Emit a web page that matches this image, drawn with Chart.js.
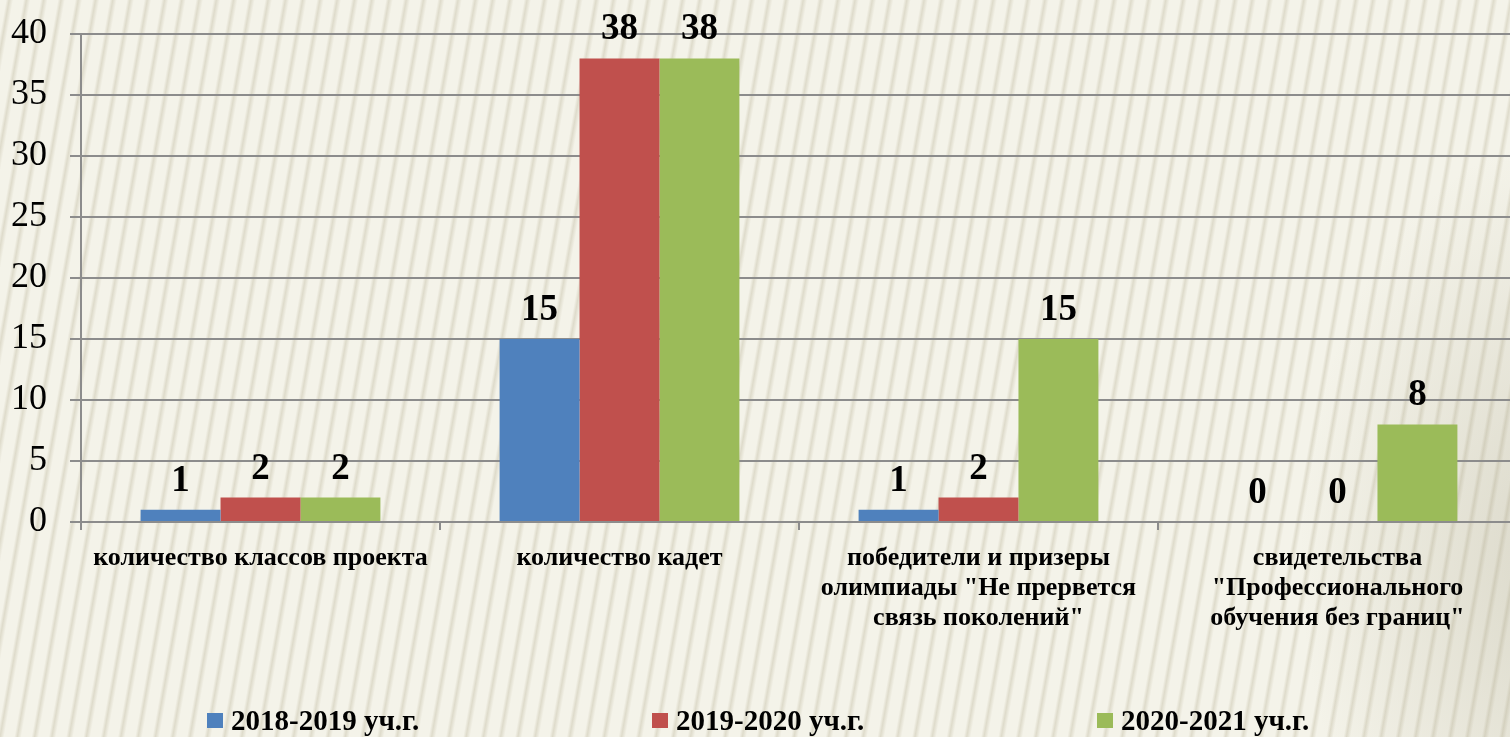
<!DOCTYPE html>
<html lang="ru">
<head>
<meta charset="utf-8">
<title>Проект кадетских классов</title>
<script src="https://cdn.jsdelivr.net/npm/chart.js@4.4.1/dist/chart.umd.min.js"></script>
<style>
  html, body {
    margin: 0;
    width: 1510px;
    height: 737px;
    overflow: hidden;
  }
  body {
    position: relative;
    background-color: #edebde;
    background-image:
      radial-gradient(ellipse 260px 420px at 1560px 560px, rgba(170,165,140,0.35), rgba(170,165,140,0) 100%),
      repeating-linear-gradient(100deg, rgba(255,255,250,0.4) 0px, rgba(255,255,250,0.4) 6px, rgba(195,190,168,0.35) 9px, rgba(255,255,250,0.4) 13px, rgba(255,255,250,0.4) 17px);
  }
  #wrap {
    position: absolute;
    left: 0;
    top: 0;
    width: 1520px;
    height: 737px;
  }
  #legend {
    position: absolute;
    left: 207px;
    top: 705px;
    display: flex;
    font: bold 29px "Liberation Serif", "Times New Roman", serif;
    color: #000;
  }
  #legend .item {
    width: 445px;
    display: flex;
    align-items: center;
    height: 30px;
  }
  #legend .box {
    width: 16px;
    height: 15px;
    margin-right: 8px;
  }
</style>
</head>
<body>
<div id="wrap"><canvas id="chart"></canvas></div>
<div id="legend"></div>

<script>
/* ================= DATA ================= */
const categories = [
  ["количество классов проекта"],
  ["количество кадет"],
  ["победители и призеры", "олимпиады \"Не прервется", "связь поколений\""],
  ["свидетельства", "\"Профессионального", "обучения без границ\""]
];

const seriesNames = ["2018-2019 уч.г.", "2019-2020 уч.г.", "2020-2021 уч.г."];
const seriesColors = ["#4f81bd", "#c0504d", "#9bbb59"];

const values2018 = [1, 15, 1, 0];
const values2019 = [2, 38, 2, 0];
const values2020 = [2, 38, 15, 8];

const yTicks = [0, 5, 10, 15, 20, 25, 30, 35, 40];

/* ================= PLUGINS ================= */
// numbers over bars (no datalabels plugin available offline)
const barValues = {
  id: "barValues",
  afterDatasetsDraw(chart) {
    const ctx = chart.ctx;
    ctx.save();
    ctx.font = "bold 37px 'Liberation Serif', 'Times New Roman', serif";
    ctx.fillStyle = "#000";
    ctx.textAlign = "center";
    ctx.textBaseline = "alphabetic";
    chart.data.datasets.forEach((ds, i) => {
      chart.getDatasetMeta(i).data.forEach((bar, j) => {
        ctx.fillText(String(ds.data[j]), bar.x, bar.y - 19);
      });
    });
    ctx.restore();
  }
};

/* ================= CHART ================= */
const allSeries = [values2018, values2019, values2020];
const gridGray = "#8c8c8c";

new Chart(document.getElementById("chart"), {
  type: "bar",
  data: {
    labels: categories,
    datasets: allSeries.map((vals, i) => ({
      label: seriesNames[i],
      data: vals,
      backgroundColor: seriesColors[i],
      borderWidth: 0,
      categoryPercentage: 0.668,
      barPercentage: 1
    }))
  },
  options: {
    responsive: true,
    maintainAspectRatio: false,
    animation: false,
    layout: {
      padding: { top: 34, right: 3, left: 0, bottom: 0 }
    },
    plugins: {
      legend: { display: false },
      tooltip: { enabled: false }
    },
    scales: {
      x: {
        offset: true,
        grid: {
          offset: true,
          drawOnChartArea: false,
          drawTicks: true,
          tickLength: 8,
          color: gridGray,
          lineWidth: 2
        },
        border: { color: gridGray, width: 2 },
        ticks: {
          color: "#000",
          maxRotation: 0,
          autoSkip: false,
          padding: 13,
          font: { family: "'Liberation Serif', 'Times New Roman', serif", size: 26, weight: "bold", lineHeight: 1.16 }
        },
        afterFit: s => { s.height = 215; }
      },
      y: {
        min: yTicks[0],
        max: yTicks[yTicks.length - 1],
        afterBuildTicks: s => { s.ticks = yTicks.map(v => ({ value: v })); },
        grid: {
          color: gridGray,
          lineWidth: 2,
          tickLength: 11
        },
        border: { color: gridGray, width: 2 },
        ticks: {
          color: "#000",
          padding: 23,
          font: { family: "'Liberation Serif', 'Times New Roman', serif", size: 36 }
        },
        afterFit: s => {
          s.width = 81;
          s.paddingTop = 0;
          s.paddingBottom = 0;
        }
      }
    }
  },
  plugins: [barValues]
});

/* ================= LEGEND ================= */
const legend = document.getElementById("legend");
seriesNames.forEach((name, i) => {
  const item = document.createElement("div");
  item.className = "item";
  item.innerHTML = `<span class="box" style="background:${seriesColors[i]}"></span><span>${name}</span>`;
  legend.appendChild(item);
});
</script>
</body>
</html>
